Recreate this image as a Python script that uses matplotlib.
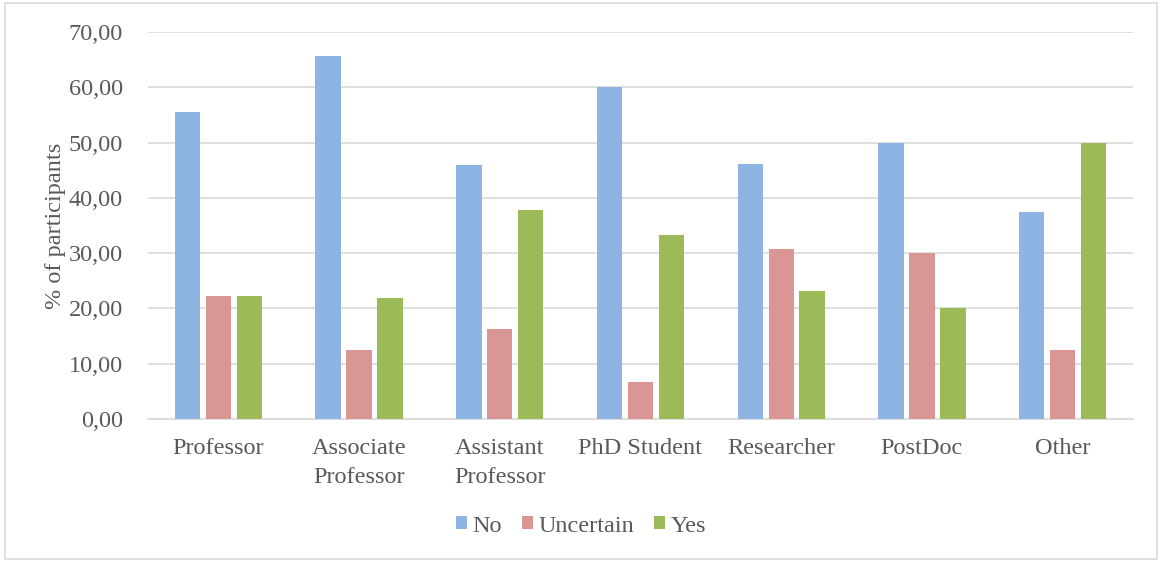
import numpy as np
import matplotlib.pyplot as plt
from matplotlib.patches import Rectangle

plt.rcParams['font.family'] = ['Liberation Serif', 'DejaVu Serif']

# Données
categories = ['Professor', 'Associate\nProfessor', 'Assistant\nProfessor',
              'PhD Student', 'Researcher', 'PostDoc', 'Other']
no = [55.56, 65.63, 45.95, 60.00, 46.15, 50.00, 37.50]
uncertain = [22.22, 12.50, 16.22, 6.67, 30.77, 30.00, 12.50]
yes = [22.22, 21.88, 37.84, 33.33, 23.08, 20.00, 50.00]
series_names = ['No', 'Uncertain', 'Yes']
couleurs = ['#8EB4E3', '#D99694', '#9BBB59']
gris = '#595959'

fig = plt.figure(figsize=(11.62, 5.62), dpi=100)
ax = fig.add_axes([0.1274, 0.2544, 0.8476, 0.6886])

x = np.arange(len(categories))
largeur = 0.18
pas = 0.22
for i, (vals, nom, c) in enumerate(zip([no, uncertain, yes], series_names, couleurs)):
    ax.bar(x + (i - 1) * pas, vals, largeur, color=c, label=nom, zorder=3)

ax.set_xlim(-0.5, len(categories) - 0.5)
ax.set_ylim(0, 70)
ax.set_yticks(np.arange(0, 71, 10))
ax.set_yticklabels([f'{v:.2f}'.replace('.', ',') for v in np.arange(0, 71, 10)])
ax.set_xticks(x)
ax.set_xticklabels(categories, linespacing=1.45)
ax.tick_params(axis='both', length=0, labelsize=17.5, colors=gris)
ax.tick_params(axis='x', pad=14)
ax.tick_params(axis='y', pad=18)
ax.grid(axis='y', color='#D9D9D9', linewidth=1.2, zorder=0)
for s in ['top', 'right', 'left']:
    ax.spines[s].set_visible(False)
ax.spines['bottom'].set_color('#D9D9D9')
ax.spines['bottom'].set_linewidth(1.2)
ax.set_ylabel('% of participants', fontsize=17.5, color=gris, labelpad=2)

fig.legend(loc='center', bbox_to_anchor=(0.5, 0.064), ncol=3, frameon=False,
           fontsize=17.5, handlelength=0.45, handleheight=0.45, handletextpad=0.25,
           columnspacing=0.8, labelcolor=gris)

# Cadre autour de la figure
fig.patches.append(Rectangle((0.004, 0.005), 0.992, 0.99, transform=fig.transFigure,
                             fill=False, edgecolor='#D9D9D9', linewidth=1.2))

plt.savefig('out.png', dpi=100)
